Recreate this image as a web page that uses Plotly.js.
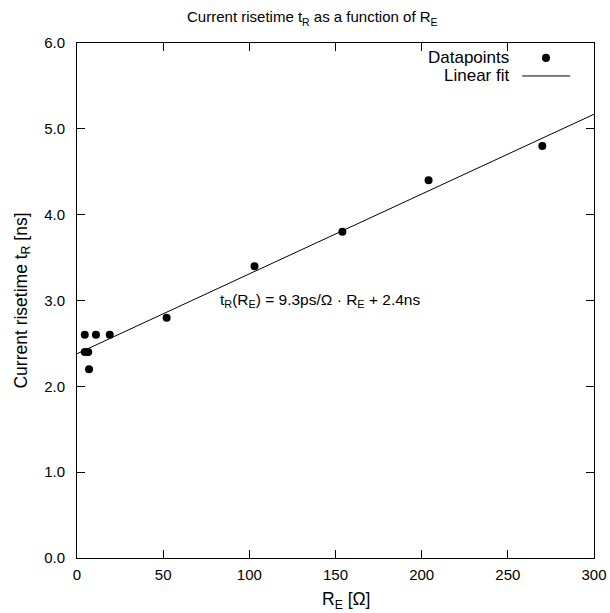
<!DOCTYPE html>
<html>
<head>
<meta charset="utf-8">
<script src="https://cdn.plot.ly/plotly-3.0.1.min.js"></script>
<style>html,body{margin:0;padding:0;background:#fff;}#chart{width:610px;height:613px;}</style>
</head>
<body>
<div id="chart"></div>
<script>
// Data
const resistance = [4.5, 4.5, 6.5, 7, 11, 19, 52, 103, 154, 204, 270];   // R_E [Ohm]
const risetime   = [2.6, 2.4, 2.4, 2.2, 2.6, 2.6, 2.8, 3.4, 3.8, 4.4, 4.8]; // t_R [ns]
const fitX = [0, 300];
const fitY = [2.38, 5.17];
const xTicks = [0, 50, 100, 150, 200, 250, 300];
const yTicks = [0, 1, 2, 3, 4, 5, 6];
const yTickLabels = ['0.0', '1.0', '2.0', '3.0', '4.0', '5.0', '6.0'];

const FONT = 'Liberation Sans, Arial, Helvetica, sans-serif';
const fTick = {family: FONT, size: 15, color: '#000'};
const fTitle = {family: FONT, size: 15, color: '#000'};
const fAxis = {family: FONT, size: 17.5, color: '#000'};
const fEq = {family: FONT, size: 15.5, color: '#000'};
const fLeg = {family: FONT, size: 17, color: '#000'};

const traces = [
  {x: fitX, y: fitY, mode: 'lines', line: {color: '#000', width: 1}, showlegend: false, hoverinfo: 'skip'},
  {x: resistance, y: risetime, mode: 'markers', marker: {color: '#000', size: 8}, showlegend: false}
];

const axisCommon = {
  showgrid: false, zeroline: false, showline: true, linecolor: '#000', linewidth: 1,
  mirror: 'allticks', ticks: 'inside', ticklen: 8, tickcolor: '#000', tickwidth: 1,
  tickfont: fTick
};

const layout = {
  width: 610, height: 613,
  margin: {l: 77, r: 16, t: 43, b: 55},
  paper_bgcolor: '#fff', plot_bgcolor: '#fff',
  font: fTick,
  title: {text: 'Current risetime t<sub>R</sub> as a function of R<sub>E</sub>', font: fTitle,
          x: 0.512, xref: 'container', xanchor: 'center', y: 0.972, yref: 'container', yanchor: 'middle'},
  xaxis: Object.assign({}, axisCommon, {range: [0, 300], tickvals: xTicks, ticktext: xTicks.map(String),
          ticklabelstandoff: 3}),
  yaxis: Object.assign({}, axisCommon, {range: [0, 6], tickvals: yTicks, ticktext: yTickLabels,
          ticklabelstandoff: 8,
          title: {text: 'Current risetime t<sub>R</sub> [ns]', font: fAxis, standoff: 12}}),
  annotations: [
    {x: 0.52, y: -0.082, xref: 'paper', yref: 'paper', xanchor: 'center', yanchor: 'middle', showarrow: false,
     text: 'R<sub>E</sub> [Ω]', font: fAxis},
    {x: 82, y: 3.0, xref: 'x', yref: 'y', xanchor: 'left', yanchor: 'middle', showarrow: false,
     text: 't<sub>R</sub>(R<sub>E</sub>) = 9.3ps/Ω · R<sub>E</sub> + 2.4ns', font: fEq},
    {x: 0.839, y: 0.971, xref: 'paper', yref: 'paper', xanchor: 'right', yanchor: 'middle', showarrow: false,
     text: 'Datapoints', font: fLeg},
    {x: 0.839, y: 0.937, xref: 'paper', yref: 'paper', xanchor: 'right', yanchor: 'middle', showarrow: false,
     text: 'Linear fit', font: fLeg}
  ],
  shapes: [
    {type: 'circle', xref: 'paper', yref: 'paper', x0: 0.8994, x1: 0.9149, y0: 0.963, y1: 0.979,
     fillcolor: '#000', line: {color: '#000', width: 0}},
    {type: 'line', xref: 'paper', yref: 'paper', x0: 0.861, x1: 0.954, y0: 0.936, y1: 0.936,
     line: {color: '#000', width: 1}}
  ]
};

Plotly.newPlot('chart', traces, layout, {displayModeBar: false, staticPlot: true});
</script>
</body>
</html>
